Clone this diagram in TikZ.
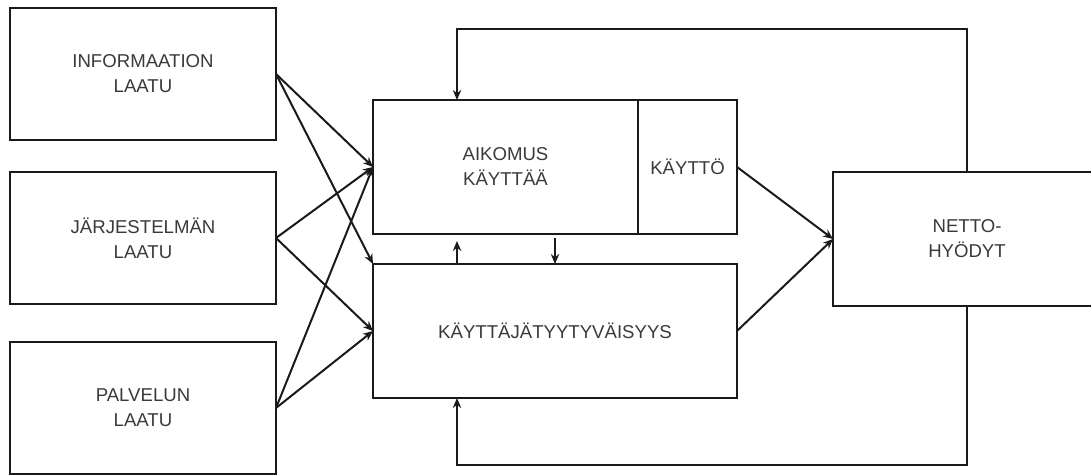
\documentclass[tikz,border=0pt]{standalone}
\usepackage{fontspec}
\setmainfont{Liberation Sans}
\usepackage{tikz}
\usetikzlibrary{positioning,arrows.meta}
\definecolor{nline}{HTML}{1A1A1A}
\definecolor{ntext}{HTML}{3A3A3A}
\tikzset{
  b/.style  = {draw=nline, fill=white, line width=1.2pt, outer sep=0pt,
               minimum width=133pt, minimum height=66pt, align=center,
               font=\fontsize{9.3}{12.5}\selectfont, text=ntext},
  bm/.style = {b, minimum height=67pt},
  a/.style  = {-{Stealth[length=5pt,width=4.2pt]}, line width=1pt, draw=nline},
}

\begin{document}
\begin{tikzpicture}[x=0.5pt, y=-0.5pt]
\useasboundingbox (0,0) rectangle (1091,475);
\clip (0,0) rectangle (1091,475);

% ---- quality boxes, left column
\node[b, anchor=north west] (info) at (10,8) {INFORMAATION\\LAATU};
\node[b, below=16pt of info]  (jarj) {JÄRJESTELMÄN\\LAATU};
\node[b, below=19pt of jarj]  (palv) {PALVELUN\\LAATU};

% ---- middle block
\node[bm, anchor=north west, minimum width=132.5pt] (aik) at (373,100) {AIKOMUS\\KÄYTTÄÄ};
\node[bm, right=0pt of aik, minimum width=49.5pt]   (kay) {KÄYTTÖ};
\node[bm, below=15pt of aik.south west, anchor=north west,
      minimum width=182pt]                          (sat) {KÄYTTÄJÄTYYTYVÄISYYS};

% ---- outcome, runs off the right edge
\node[bm, anchor=north west, minimum width=134pt] (net) at (833,172) {NETTO-\\HYÖDYT};

% ---- quality -> intention / satisfaction
\draw[a] (info.east) -- (aik.west);
\draw[a] (info.east) -- (sat.north west);
\draw[a] (jarj.east) -- (aik.west);
\draw[a] (jarj.east) -- (sat.west);
\draw[a] (palv.east) -- (aik.west);
\draw[a] (palv.east) -- (sat.west);

% ---- between intention and satisfaction
\coordinate (up) at ([xshift=42pt,yshift=-3.5pt]aik.south west);
\draw[a] (sat.north west -| up) -- (up);
\draw[a] ([yshift=-2pt]aik.south -| sat.north) -- (sat.north);

% ---- use / satisfaction -> net benefits
\draw[a] (kay.east) -- (net.west);
\draw[a] (sat.east) -- (net.west);

% ---- feedback from net benefits
\coordinate (ytop) at (0,29);
\coordinate (ybot) at (0,465);
\coordinate (fbt)  at ([xshift=42pt]aik.north west);
\coordinate (fbb)  at ([xshift=42pt]sat.south west);
\draw[a] (net.north) -- (net.north |- ytop) -| (fbt);
\draw[a] (net.south) -- (net.south |- ybot) -| (fbb);

\end{tikzpicture}
\end{document}
